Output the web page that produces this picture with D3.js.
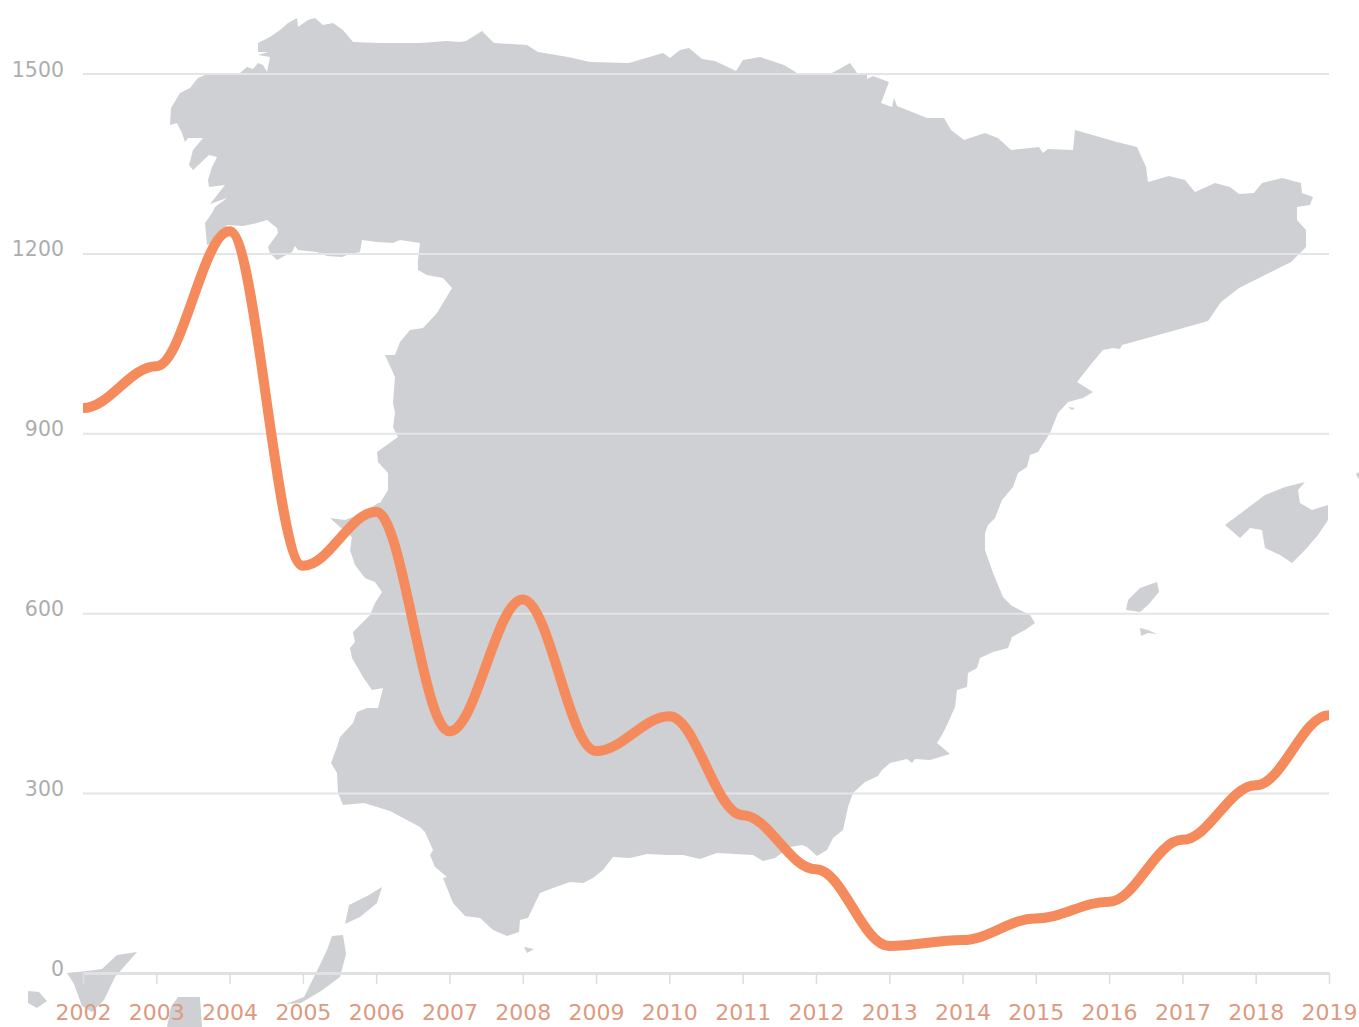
<!DOCTYPE html>
<html><head><meta charset="utf-8">
<script src="https://cdn.jsdelivr.net/npm/d3@7"></script>
<style>html,body{margin:0;padding:0;background:#fff;overflow:hidden}svg{display:block}text{font-family:"DejaVu Sans",sans-serif}</style>
</head><body><svg id="c" width="1359" height="1027"></svg>
<script>
const years=[2002,2003,2004,2005,2006,2007,2008,2009,2010,2011,2012,2013,2014,2015,2016,2017,2018,2019];
const values=[942,1012,1237,679,769,403,623,370,428,263,173,45,55,91,119,222,313,430];
const yTicks=[0,300,600,900,1200,1500];

// Background map in its own map units
const mainland=[[258,52],[258,43],[270,37],[280,30],[288,23],[297,18],[298,27],[308,20],[315,18],[323,25],[333,23],[343,30],[353,42],[380,43],[420,43],[447,41],[460,42],[466,41],[482,31],[494,43],[527,45],[538,52],[568,57],[590,62],[629,63],[663,53],[670,58],[680,50],[689,48],[702,59],[715,61],[736,71],[743,60],[760,57],[784,65],[797,73],[832,73],[850,63],[857,73],[867,74],[867,79],[873,76],[889,82],[881,103],[892,107],[894,98],[897,106],[927,118],[944,118],[951,130],[964,140],[985,133],[998,138],[1011,150],[1039,147],[1043,153],[1048,149],[1073,150],[1075,130],[1117,142],[1137,147],[1146,167],[1148,182],[1169,176],[1185,180],[1195,192],[1215,183],[1230,187],[1239,194],[1254,193],[1262,183],[1282,178],[1301,183],[1302,193],[1313,197],[1310,205],[1297,207],[1297,220],[1306,230],[1306,247],[1291,262],[1265,275],[1239,288],[1221,302],[1208,321],[1169,332],[1122,345],[1120,349],[1113,348],[1103,350],[1092,363],[1077,382],[1093,392],[1083,398],[1068,402],[1058,413],[1050,433],[1038,452],[1030,455],[1027,467],[1018,473],[1013,487],[1002,500],[995,518],[988,525],[985,533],[985,550],[993,573],[1003,597],[1012,606],[1030,615],[1035,623],[1025,630],[1012,637],[1008,648],[993,652],[980,658],[977,668],[968,673],[967,687],[957,690],[955,707],[947,725],[943,733],[937,743],[950,754],[930,760],[915,759],[912,763],[907,759],[890,763],[882,770],[878,776],[865,782],[853,793],[848,807],[843,830],[833,838],[827,850],[817,856],[807,847],[802,845],[790,847],[775,858],[763,861],[753,855],[717,853],[700,859],[683,855],[667,855],[647,854],[630,858],[613,857],[603,870],[593,878],[583,883],[570,882],[553,888],[540,893],[528,918],[520,920],[519,932],[507,936],[493,930],[480,918],[465,916],[453,903],[443,878],[447,877],[435,867],[430,855],[433,850],[425,832],[420,827],[390,811],[364,803],[343,805],[338,793],[337,773],[331,763],[337,747],[340,737],[353,723],[357,712],[367,708],[378,708],[383,688],[372,690],[363,677],[352,658],[350,648],[355,642],[353,632],[370,615],[375,603],[382,592],[375,582],[365,578],[355,565],[350,550],[352,537],[340,527],[330,518],[345,520],[363,513],[378,503],[380,503],[388,490],[388,473],[378,462],[377,452],[398,437],[393,427],[395,413],[393,403],[395,377],[385,355],[395,355],[400,342],[410,330],[423,328],[437,313],[452,288],[443,278],[427,275],[418,270],[418,260],[420,243],[400,240],[393,243],[377,242],[362,240],[360,252],[347,255],[342,257],[327,256],[317,252],[298,250],[295,246],[292,252],[277,260],[270,253],[268,247],[278,233],[277,228],[267,220],[257,223],[243,226],[227,225],[217,240],[207,245],[205,223],[212,213],[215,207],[227,198],[210,204],[225,185],[209,187],[208,180],[212,167],[217,157],[209,155],[193,170],[189,165],[193,150],[203,138],[188,138],[185,142],[182,133],[177,123],[170,125],[171,108],[180,93],[190,88],[198,78],[210,73],[223,75],[240,73],[247,67],[253,69],[258,63],[263,65],[267,72],[270,57],[258,55],[268,52],[258,52]];
const mallorca=[[1225,525],[1245,510],[1265,495],[1285,487],[1305,482],[1298,490],[1300,503],[1312,510],[1328,505],[1328,520],[1318,535],[1305,550],[1292,563],[1280,555],[1265,548],[1262,530],[1250,528],[1240,538],[1225,525]];
const ibiza=[[1128,600],[1140,588],[1157,582],[1159,592],[1148,605],[1140,612],[1126,610],[1128,600]];
const formentera=[[1140,628],[1148,630],[1157,634],[1148,633],[1141,636],[1140,628]];
const columbretes=[[1068,407],[1075,408],[1072,410],[1068,407]];
const ceuta=[[524,947],[534,949],[527,953],[524,947]];
const lanzarote=[[382,887],[377,903],[360,917],[345,924],[349,905],[369,895],[382,887]];
const fuerteventura=[[332,936],[343,935],[346,954],[340,977],[321,991],[301,1003],[286,1004],[304,997],[317,971],[327,950],[332,936]];
const tenerife=[[137,952],[117,955],[102,969],[87,971],[67,973],[74,984],[82,1006],[92,1012],[104,1000],[115,977],[130,960],[137,952]];
const granCanaria=[[178,997],[200,997],[202,1027],[167,1027],[171,1007],[178,997]];
const gomera=[[28,991],[39,992],[47,1001],[37,1008],[28,1003],[28,991]];
const menorca=[[1356,474],[1359,472],[1359,480],[1356,474]];
const regions=[mainland,mallorca,ibiza,formentera,columbretes,ceuta,lanzarote,fuerteventura,tenerife,granCanaria,gomera,menorca];

const svg=d3.select("#c");
const x=d3.scalePoint().domain(years).range([83,1329]);
const y=d3.scaleLinear().domain([0,1500]).range([973,73.5]);

const geo=d3.geoPath(d3.geoIdentity());
svg.append("g").selectAll("path").data(regions).join("path")
  .attr("d",r=>geo({type:"Polygon",coordinates:[r]}))
  .attr("fill","#ced0d4");

const gy=svg.append("g").attr("transform","translate(83,0)")
  .call(d3.axisLeft(y).tickValues(yTicks).tickSize(-1246).tickPadding(19).tickFormat(d3.format("d")));
gy.select(".domain").remove();
gy.selectAll(".tick line").attr("stroke","#e4e5e7").attr("stroke-width",2).filter(d=>d===0).remove();
gy.selectAll("text").attr("fill","#adadad").attr("font-size",20.5).attr("dy",0).attr("y",2.5)
  .attr("font-family","DejaVu Sans");

const gx=svg.append("g").attr("transform","translate(0,973)")
  .call(d3.axisBottom(x).tickSize(11).tickPadding(19).tickSizeOuter(0).tickFormat(d3.format("d")));
gx.select(".domain").attr("stroke","#e0e1e3").attr("stroke-width",3);
gx.selectAll(".tick line").attr("stroke","#dcdde0").attr("stroke-width",1.5);
gx.selectAll("text").attr("fill","#dd9a80").attr("font-size",22).attr("dy",0).attr("y",47)
  .attr("font-family","DejaVu Sans");

// Flat tangent at every yearly point, with short handles so the turns stay tight
function flatTangentCurve(ctx){
  let px,py,started;
  const k=0.36;
  return {
    areaStart(){},areaEnd(){},
    lineStart(){started=false;},
    lineEnd(){},
    point(a,b){
      a=+a;b=+b;
      if(!started){ctx.moveTo(a,b);started=true;}
      else{const d=(a-px)*k;ctx.bezierCurveTo(px+d,py,a-d,b,a,b);}
      px=a;py=b;
    }
  };
}
const line=d3.line().x((d,i)=>x(years[i])).y(d=>y(d)).curve(flatTangentCurve);
svg.append("path").datum(values).attr("d",line).attr("fill","none")
  .attr("stroke","#f58b5c").attr("stroke-width",10).attr("stroke-linejoin","round");
</script></body></html>
